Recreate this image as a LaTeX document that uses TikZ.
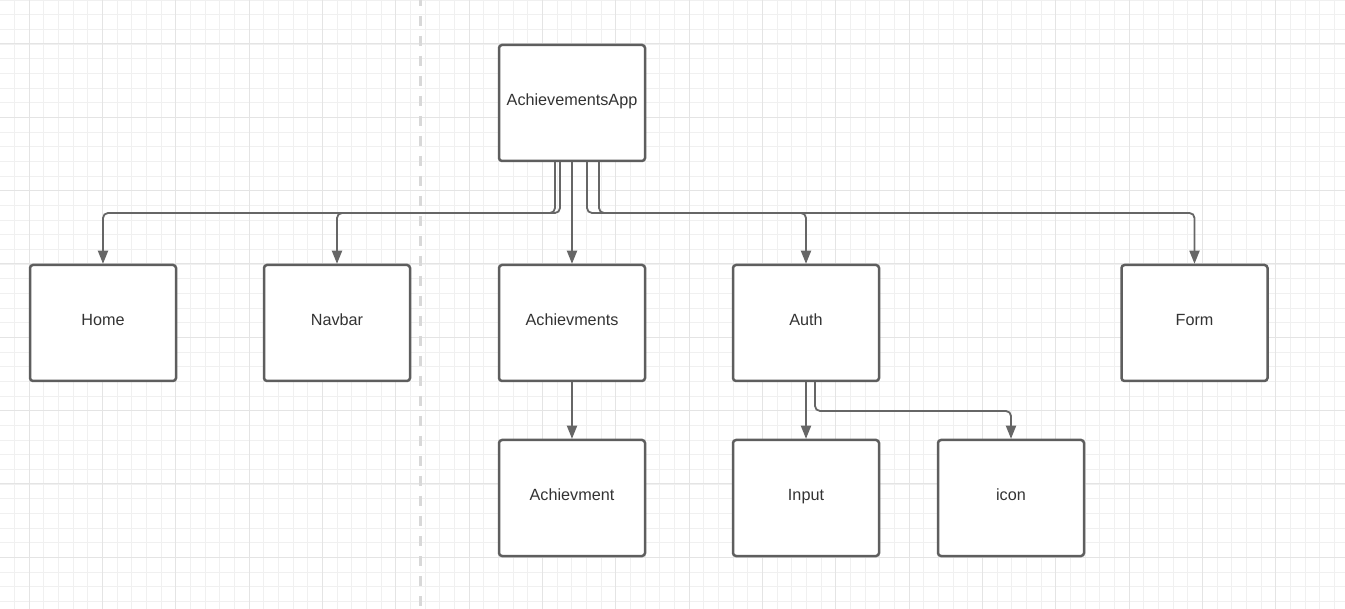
\documentclass[tikz,border=0pt]{standalone}
\usepackage{fontspec}
\setmainfont{Liberation Sans}
\usetikzlibrary{arrows.meta}
\definecolor{minorgrid}{HTML}{F0F0F0}
\definecolor{majorgrid}{HTML}{E4E4E4}
\definecolor{boxline}{HTML}{5E5E5E}
\definecolor{connline}{HTML}{666666}
\definecolor{txt}{HTML}{333333}
\definecolor{sep}{HTML}{D8D8D8}
\tikzset{
  comp/.style={draw=boxline, line width=2.5pt, rounded corners=3pt, fill=white,
    minimum width=146pt, minimum height=116pt, inner sep=0pt,
    text height=11.5pt, text depth=6pt,
    text=txt, font=\fontsize{16.2}{19}\selectfont},
  conn/.style={draw=connline, line width=1.8pt, rounded corners=5pt,
    -{Triangle[length=13pt,width=10pt]}}
}
\begin{document}
\begin{tikzpicture}[x=1pt,y=-1pt]
\useasboundingbox (0,0) rectangle (1345,609);
\fill[white] (0,0) rectangle (1345,609);
% grid
\foreach \i in {0,...,92} {
  \draw[minorgrid, line width=0.8pt] ({-0.33+14.667*\i},0) -- ({-0.33+14.667*\i},609);
}
\foreach \i in {0,...,42} {
  \draw[minorgrid, line width=0.8pt] (0,{14.667*\i}) -- (1345,{14.667*\i});
}
\foreach \i in {0,...,18} {
  \draw[majorgrid, line width=1pt] ({29+73.333*\i},0) -- ({29+73.333*\i},609);
}
\foreach \i in {0,...,8} {
  \draw[majorgrid, line width=1pt] (0,{44+73.333*\i}) -- (1345,{44+73.333*\i});
}
% separator
\draw[sep, line width=3pt, dash pattern=on 10pt off 10pt] (420,-4) -- (420,609);

% nodes
\node[comp] (app) at (572,103) {AchievementsApp};
\node[comp] (home) at (103,323) {Home};
\node[comp] (navbar) at (337,323) {Navbar};
\node[comp] (achs) at (572,323) {Achievments};
\node[comp] (auth) at (806,323) {Auth};
\node[comp] (form) at (1194.5,323) {Form};
\node[comp] (ach) at (572,498) {Achievment};
\node[comp] (input) at (806,498) {Input};
\node[comp] (icon) at (1011,498) {icon};

\coordinate (bus) at (0,213);
\coordinate (bus2) at (0,411);

% connectors
\draw[conn] ([xshift=-17pt]app.south) |- (bus -| home.north) -- (home.north);
\draw[conn] ([xshift=-12pt]app.south) |- (bus -| navbar.north) -- (navbar.north);
\draw[conn] (app.south) -- (achs.north);
\draw[conn] ([xshift=15pt]app.south) |- (bus -| auth.north) -- (auth.north);
\draw[conn] ([xshift=27pt]app.south) |- (bus -| form.north) -- (form.north);
\draw[conn] (achs.south) -- (ach.north);
\draw[conn] (auth.south) -- (input.north);
\draw[conn] ([xshift=9pt]auth.south) |- (bus2 -| icon.north) -- (icon.north);
\end{tikzpicture}
\end{document}
